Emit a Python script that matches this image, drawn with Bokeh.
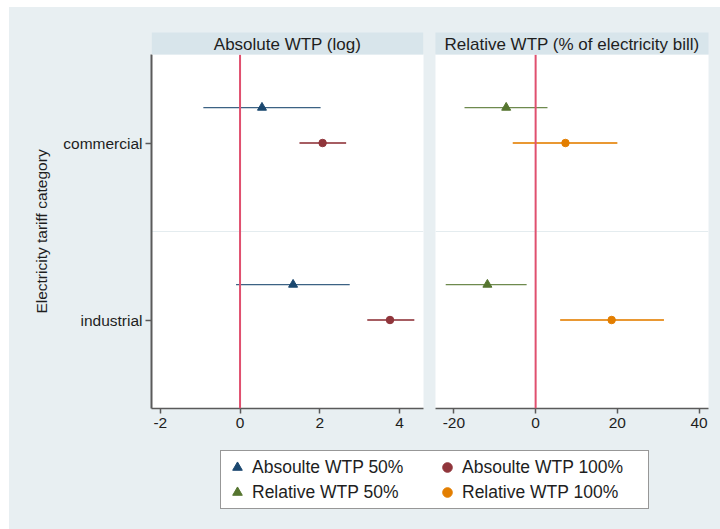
from bokeh.plotting import figure
from bokeh.models import (Range1d, FixedTicker, Span, Legend, LegendItem,
                          ColumnDataSource)
from bokeh.layouts import column, row
from bokeh.embed import file_html
from bokeh.resources import INLINE

# ---------------- data ----------------
categories = ["commercial", "industrial"]

abs50_est = [0.55, 1.33]
abs50_lo = [-0.92, -0.10]
abs50_hi = [2.02, 2.75]

abs100_est = [2.07, 3.76]
abs100_lo = [1.49, 3.19]
abs100_hi = [2.66, 4.37]

rel50_est = [-7.2, -11.8]
rel50_lo = [-17.4, -22.0]
rel50_hi = [2.9, -2.2]

rel100_est = [7.3, 18.6]
rel100_lo = [-5.6, 6.0]
rel100_hi = [20.0, 31.4]

abs_ticks = [-2, 0, 2, 4]
rel_ticks = [-20, 0, 20, 40]

series_labels = ["Absoulte WTP 50%", "Absoulte WTP 100%",
                 "Relative WTP 50%", "Relative WTP 100%"]

# ---------------- style ----------------
FONT = "Liberation Sans"
BG = "#E8EFF2"
HEADER = "#D8E5EB"
AXIS_C = "#5A5A5A"
TEXT_C = "#1E1E1E"
NAVY = "#1A476F"
MAROON = "#90353B"
GREEN = "#55752F"
ORANGE = "#E37E00"
REFLINE = "#E0506F"

n = len(categories)
ybase = [2 * (n - i) - 1 for i in range(n)]     # commercial top, industrial bottom
y50 = [y + 0.4 for y in ybase]
y100 = list(ybase)


def src(est, lo, hi, ys):
    return ColumnDataSource(dict(est=est, lo=lo, hi=hi, y=ys, cat=categories))


s_abs50 = src(abs50_est, abs50_lo, abs50_hi, y50)
s_abs100 = src(abs100_est, abs100_lo, abs100_hi, y100)
s_rel50 = src(rel50_est, rel50_lo, rel50_hi, y50)
s_rel100 = src(rel100_est, rel100_lo, rel100_hi, y100)


def make_panel(title, width, xr, ticks, mbl, mbr, pad_lr, show_y):
    p = figure(width=width, height=435, x_range=xr, y_range=Range1d(0, 2 * n),
               output_backend="svg", toolbar_location=None,
               min_border_left=mbl, min_border_right=mbr,
               min_border_top=47, min_border_bottom=34)
    p.background_fill_color = "white"
    p.border_fill_color = BG
    p.outline_line_color = None
    p.title.text = title
    p.title.align = "center"
    p.title.text_font = FONT
    p.title.text_font_size = "17px"
    p.title.text_font_style = "normal"
    p.title.text_color = TEXT_C
    p.title.background_fill_color = HEADER
    p.title.standoff = 0
    p.title.padding = dict(left=pad_lr, right=pad_lr, top=2, bottom=1)

    p.xaxis.ticker = FixedTicker(ticks=ticks)
    p.xaxis.major_label_overrides = {t: str(t) for t in ticks}
    p.xaxis.minor_tick_line_color = None
    p.xaxis.major_tick_in = 0
    p.xaxis.major_tick_out = 5
    p.xaxis.major_label_standoff = 4
    p.xaxis.axis_line_color = AXIS_C
    p.xaxis.axis_line_width = 1.5
    p.xaxis.major_tick_line_color = AXIS_C
    p.xaxis.major_tick_line_width = 1.5
    p.xaxis.major_label_text_font = FONT
    p.xaxis.major_label_text_font_size = "15.5px"
    p.xaxis.major_label_text_color = TEXT_C

    if show_y:
        p.yaxis.ticker = FixedTicker(ticks=ybase)
        p.yaxis.major_label_overrides = {y: c for y, c in zip(ybase, categories)}
        p.yaxis.minor_tick_line_color = None
        p.yaxis.major_tick_in = 0
        p.yaxis.major_tick_out = 6
        p.yaxis.major_label_standoff = 3
        p.yaxis.axis_line_color = AXIS_C
        p.yaxis.axis_line_width = 2
        p.yaxis.major_tick_line_color = AXIS_C
        p.yaxis.major_tick_line_width = 1.5
        p.yaxis.major_label_text_font = FONT
        p.yaxis.major_label_text_font_size = "15.5px"
        p.yaxis.major_label_text_color = TEXT_C
        p.yaxis.axis_label = "Electricity tariff category"
        p.yaxis.axis_label_text_font = FONT
        p.yaxis.axis_label_text_font_size = "15.5px"
        p.yaxis.axis_label_text_font_style = "normal"
        p.yaxis.axis_label_text_color = TEXT_C
        p.yaxis.axis_label_standoff = 10
    else:
        p.yaxis.visible = False

    p.xgrid.visible = False
    p.ygrid.ticker = FixedTicker(ticks=[n])
    p.ygrid.grid_line_color = "#E4ECEF"
    p.ygrid.grid_line_width = 1

    p.add_layout(Span(location=0, dimension="height", line_color=REFLINE,
                      line_width=2))
    return p


p1 = make_panel("Absolute WTP (log)", 420, Range1d(-2.22, 4.60), abs_ticks,
                142, 6, 62, True)
p2 = make_panel("Relative WTP (% of electricity bill)", 291, Range1d(-24.5, 42.3),
                rel_ticks, 6, 12, 9, False)

# CI lines + point estimates
p1.segment(x0="lo", y0="y", x1="hi", y1="y", source=s_abs50, line_color=NAVY,
           line_width=1.3, line_alpha=0.85)
p1.scatter(x="est", y="y", source=s_abs50, marker="triangle", size=9,
           fill_color=NAVY, line_color=NAVY)
p1.segment(x0="lo", y0="y", x1="hi", y1="y", source=s_abs100, line_color=MAROON,
           line_width=2.2, line_alpha=0.8)
p1.scatter(x="est", y="y", source=s_abs100, marker="circle", size=7.5,
           fill_color=MAROON, line_color=MAROON)

p2.segment(x0="lo", y0="y", x1="hi", y1="y", source=s_rel50, line_color=GREEN,
           line_width=1.3, line_alpha=0.85)
p2.scatter(x="est", y="y", source=s_rel50, marker="triangle", size=9,
           fill_color=GREEN, line_color=GREEN)
p2.segment(x0="lo", y0="y", x1="hi", y1="y", source=s_rel100, line_color=ORANGE,
           line_width=2.2, line_alpha=0.8)
p2.scatter(x="est", y="y", source=s_rel100, marker="circle", size=7.5,
           fill_color=ORANGE, line_color=ORANGE)

# ---------------- legend panel ----------------
pl = figure(width=711, height=87, x_range=Range1d(1000, 1001),
            y_range=Range1d(1000, 1001), output_backend="svg",
            toolbar_location=None, min_border=0)
pl.axis.visible = False
pl.grid.visible = False
pl.outline_line_color = None
pl.background_fill_color = BG
pl.border_fill_color = BG

lg_specs = [(s_abs50, "triangle", NAVY), (s_abs100, "circle", MAROON),
            (s_rel50, "triangle", GREEN), (s_rel100, "circle", ORANGE)]
lg_renderers = []
for s, m, c in lg_specs:
    r = pl.scatter(x="est", y="y", source=s, marker=m, size=10,
                   fill_color=c, line_color=c)
    lg_renderers.append(r)

items = [LegendItem(label=lab, renderers=[r])
         for lab, r in zip(series_labels, lg_renderers)]
# legend fills column by column: reorder so that rows read Absolute / Relative
items = [items[0], items[2], items[1], items[3]]
legend = Legend(items=items, ncols=2, location=(211, 20),
                label_text_font=FONT, label_text_font_size="17.5px",
                label_text_color=TEXT_C, glyph_width=24, glyph_height=24,
                label_standoff=3, label_width=182, spacing=1, padding=4,
                margin=0, border_line_color="#303030", border_line_width=1,
                background_fill_color="white", background_fill_alpha=1)
pl.add_layout(legend, "center")

top = row(p1, p2, styles={"background-color": BG})
layout = column(top, pl, margin=(7, 0, 0, 9), styles={"background-color": BG})
open("out.html", "w").write(file_html(layout, INLINE))
